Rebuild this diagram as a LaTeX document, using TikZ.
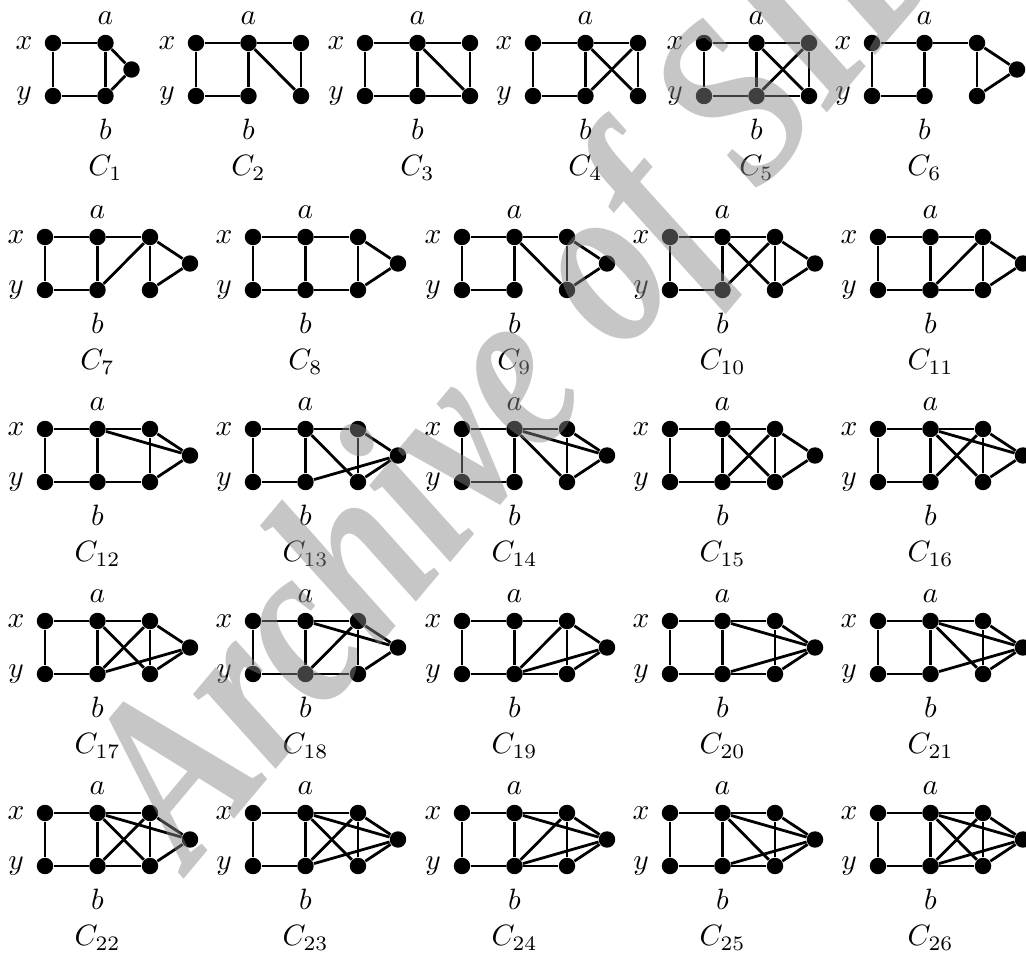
\documentclass[tikz,border=0pt]{standalone}
\usepackage{fontspec}
\newfontfamily\wmfont{Liberation Serif}
\begin{document}
\tikzset{
  vtx/.style={circle,fill=black,inner sep=0pt,minimum size=5.6pt},
  lbl/.style={inner sep=0pt},
  edge/.style={line width=0.95pt},
  wmark/.style={rotate=50,yscale=1.25,text=black!47,text opacity=0.47,inner sep=0pt,
    font=\fontsize{66}{66}\selectfont\wmfont\bfseries\itshape}
}
\newcommand\gbase[4]{%
  \node[vtx] (#1x) at (#2,#3) {};
  \node[vtx] (#1a) at (#2+52.5,#3) {};
  \node[vtx] (#1y) at (#2,#3+53) {};
  \node[vtx] (#1b) at (#2+52.5,#3+53) {};
  \node[lbl] (#1lx) at (#2-29,#3) {$x$};
  \node[lbl] (#1ly) at (#2-29,#3+53) {$y$};
  \node[lbl] (#1la) at (#2+52.5,#3-25) {$a$};
  \node[lbl] (#1lb) at (#2+52.5,#3+86) {$b$};
  \node[lbl] (#1lc) at (#2+52.5,#3+125) {$C_{#4}$};
  \draw[edge] (#1x)--(#1a);
  \draw[edge] (#1x)--(#1y);
  \draw[edge] (#1y)--(#1b);
  \draw[edge] (#1a)--(#1b);
}
\newcommand\gcolcd[3]{%
  \node[vtx] (#1c) at (#2+105,#3) {};
  \node[vtx] (#1d) at (#2+105,#3+53) {};
}
\newcommand\gthird[3]{%
  \gcolcd{#1}{#2}{#3}%
  \node[vtx] (#1e) at (#2+145,#3+26.5) {};
}
\newcommand\gedges[2]{\foreach \u/\v in {#2} {\draw[edge] (#1\u)--(#1\v);}}
\begin{tikzpicture}[x=0.34pt,y=-0.34pt]
\clip (0,0) rectangle (1026,956);
\fill[white] (0,0) rectangle (1026,956);
% Row 1
\gbase{g1}{53}{43}{1}
\node[vtx] (g1e) at (131.5,69.5) {};
\gedges{g1}{a/e,b/e}
\gbase{g2}{196}{43}{2}\gcolcd{g2}{196}{43}
\gedges{g2}{a/c,c/d,a/d}
\gbase{g3}{365}{43}{3}\gcolcd{g3}{365}{43}
\gedges{g3}{a/c,c/d,b/d,a/d}
\gbase{g4}{533}{43}{4}\gcolcd{g4}{533}{43}
\gedges{g4}{a/c,c/d,a/d,b/c}
\gbase{g5}{704}{43}{5}\gcolcd{g5}{704}{43}
\gedges{g5}{a/c,c/d,b/d,a/d,b/c}
\gbase{g6}{872}{43}{6}\gthird{g6}{872}{43}
\gedges{g6}{a/c,c/d,c/e,d/e}
% Row 2
\gbase{g7}{45}{237}{7}\gthird{g7}{45}{237}
\gedges{g7}{a/c,b/c,c/d,c/e,d/e}
\gbase{g8}{253}{237}{8}\gthird{g8}{253}{237}
\gedges{g8}{a/c,b/d,c/d,c/e,d/e}
\gbase{g9}{462}{237}{9}\gthird{g9}{462}{237}
\gedges{g9}{a/c,a/d,c/d,c/e,d/e}
\gbase{g10}{670}{237}{10}\gthird{g10}{670}{237}
\gedges{g10}{a/c,a/d,b/c,c/d,c/e,d/e}
\gbase{g11}{878}{237}{11}\gthird{g11}{878}{237}
\gedges{g11}{a/c,b/d,b/c,c/d,c/e,d/e}
% Row 3
\gbase{g12}{45}{429}{12}\gthird{g12}{45}{429}
\gedges{g12}{a/c,b/d,c/d,c/e,d/e,a/e}
\gbase{g13}{253}{429}{13}\gthird{g13}{253}{429}
\gedges{g13}{a/c,a/d,b/e,c/d,c/e,d/e}
\gbase{g14}{462}{429}{14}\gthird{g14}{462}{429}
\gedges{g14}{a/c,a/d,a/e,c/d,c/e,d/e}
\gbase{g15}{670}{429}{15}\gthird{g15}{670}{429}
\gedges{g15}{a/c,b/d,a/d,b/c,c/d,c/e,d/e}
\gbase{g16}{878}{429}{16}\gthird{g16}{878}{429}
\gedges{g16}{a/c,a/d,b/c,a/e,c/d,c/e,d/e}
% Row 4
\gbase{g17}{45}{621}{17}\gthird{g17}{45}{621}
\gedges{g17}{a/c,a/d,b/c,b/e,c/d,c/e,d/e}
\gbase{g18}{253}{621}{18}\gthird{g18}{253}{621}
\gedges{g18}{a/c,b/d,b/c,a/e,c/d,c/e,d/e}
\gbase{g19}{462}{621}{19}\gthird{g19}{462}{621}
\gedges{g19}{a/c,b/d,b/c,b/e,c/d,c/e,d/e}
\gbase{g20}{670}{621}{20}\gthird{g20}{670}{621}
\gedges{g20}{a/c,b/d,a/e,b/e,c/d,c/e,d/e}
\gbase{g21}{878}{621}{21}\gthird{g21}{878}{621}
\gedges{g21}{a/c,a/d,a/e,b/e,c/d,c/e,d/e}
% Row 5
\gbase{g22}{45}{813}{22}\gthird{g22}{45}{813}
\gedges{g22}{a/c,b/d,a/d,b/c,a/e,c/d,c/e,d/e}
\gbase{g23}{253}{813}{23}\gthird{g23}{253}{813}
\gedges{g23}{a/c,a/d,b/c,a/e,b/e,c/d,c/e,d/e}
\gbase{g24}{462}{813}{24}\gthird{g24}{462}{813}
\gedges{g24}{a/c,b/d,b/c,a/e,b/e,c/d,c/e,d/e}
\gbase{g25}{670}{813}{25}\gthird{g25}{670}{813}
\gedges{g25}{a/c,b/d,a/d,a/e,b/e,c/d,c/e,d/e}
\gbase{g26}{878}{813}{26}\gthird{g26}{878}{813}
\gedges{g26}{a/c,b/d,a/d,b/c,a/e,b/e,c/d,c/e,d/e}
% watermark
\node[wmark] (wm) at (533,371) {Archive of SID};
\end{tikzpicture}
\end{document}
